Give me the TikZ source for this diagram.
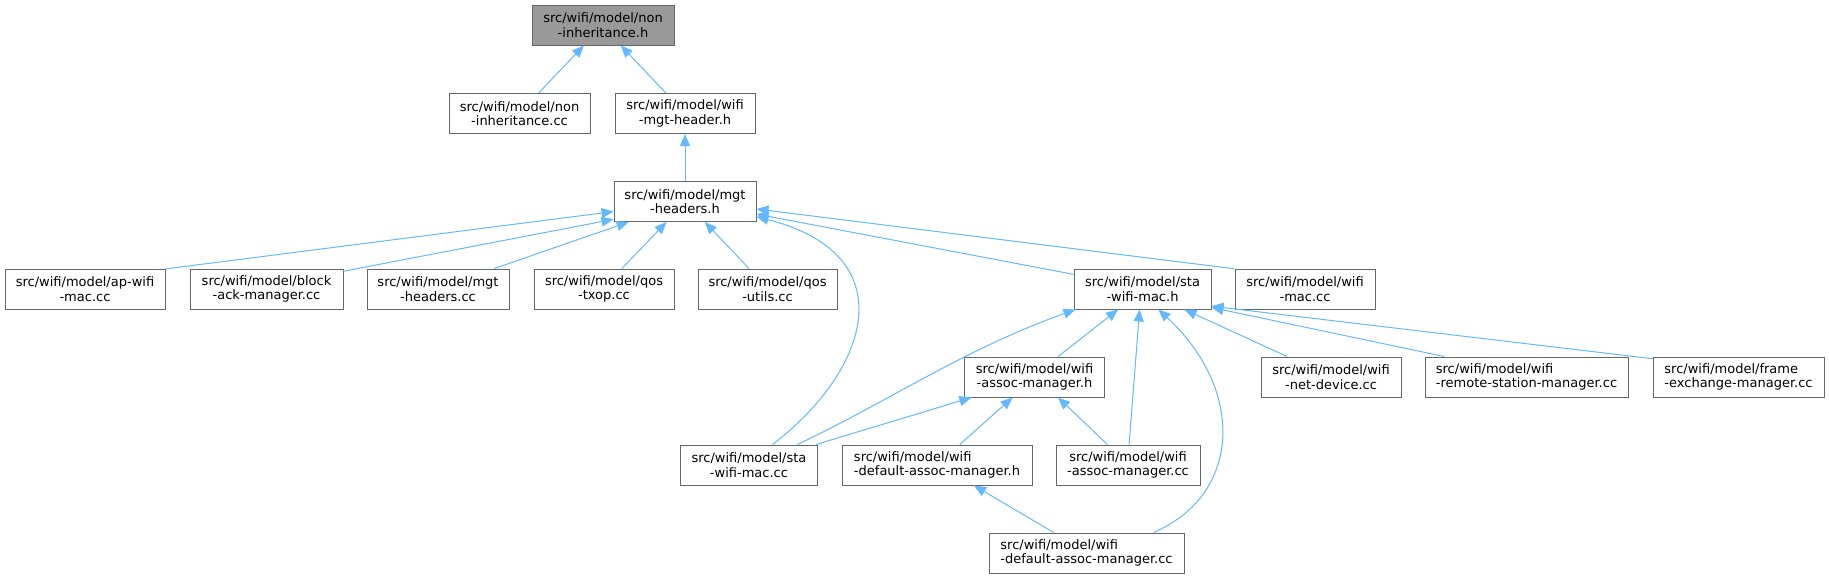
\documentclass[tikz,border=0pt]{standalone}
\usepackage{fontspec}
\setmainfont{DejaVu Sans}
\usetikzlibrary{arrows.meta}
\definecolor{edgeblue}{HTML}{63B8FF}
\definecolor{boxgrey}{HTML}{666666}
\definecolor{rootfill}{HTML}{999999}
\begin{document}
\begin{tikzpicture}[x=0.75pt,y=0.75pt]
\tikzstyle{every node}+=[inner sep=0pt]
\tikzstyle{file}=[draw=boxgrey,line width=0.75pt,fill=white,minimum height=30pt,align=center,font=\fontsize{9.75}{11}\selectfont]
\tikzstyle{dep}=[edgeblue,line width=0.75pt,-{Triangle[length=9pt,width=7.5pt]}]
\useasboundingbox (0,0) rectangle (1829,-579);
\node [file,fill=rootfill,minimum width=106.5pt] (root) at (603,-25) {src/wifi/model/non\\-inheritance.h};
\node [file,minimum width=105.75pt] (noninhcc) at (519.5,-113.5) {src/wifi/model/non\\-inheritance.cc};
\node [file,minimum width=105pt] (mgthdr) at (685,-113.5) {src/wifi/model/wifi\\-mgt-header.h};
\node [file,minimum width=106.5pt] (mgth) at (685,-201.5) {src/wifi/model/mgt\\-headers.h};
\node [file,minimum width=120pt] (apcc) at (85,-289) {src/wifi/model/ap-wifi\\-mac.cc};
\node [file,minimum width=114.75pt] (blockcc) at (266.5,-289) {src/wifi/model/block\\-ack-manager.cc};
\node [file,minimum width=106.5pt] (mgtcc) at (438,-289) {src/wifi/model/mgt\\-headers.cc};
\node [file,minimum width=105pt] (txopcc) at (604,-289) {src/wifi/model/qos\\-txop.cc};
\node [file,minimum width=104.25pt] (qosutils) at (767.5,-289) {src/wifi/model/qos\\-utils.cc};
\node [file,minimum width=102.75pt] (stah) at (1142.5,-289) {src/wifi/model/sta\\-wifi-mac.h};
\node [file,minimum width=105pt] (maccc) at (1305,-289) {src/wifi/model/wifi\\-mac.cc};
\node [file,minimum width=104.6pt] (assoch) at (1034.5,-377) {src/wifi/model/wifi\\-assoc-manager.h};
\node [file,minimum width=105pt] (netdev) at (1331,-377) {src/wifi/model/wifi\\-net-device.cc};
\node [file,align=left,minimum width=152.25pt] (remote) at (1526.5,-377) {src/wifi/model/wifi\\-remote-station-manager.cc};
\node [file,align=left,minimum width=128.25pt] (frame) at (1738.5,-377) {src/wifi/model/frame\\-exchange-manager.cc};
\node [file,minimum width=102.4pt] (stacc) at (749,-465) {src/wifi/model/sta\\-wifi-mac.cc};
\node [file,align=left,minimum width=142.5pt] (defh) at (937,-465) {src/wifi/model/wifi\\-default-assoc-manager.h};
\node [file,minimum width=108pt] (assoccc) at (1128,-465) {src/wifi/model/wifi\\-assoc-manager.cc};
\node [file,align=left,minimum width=146.25pt] (defcc) at (1086.5,-553) {src/wifi/model/wifi\\-default-assoc-manager.cc};
\draw [dep] (noninhcc.47) -- (root.-133.5);
\draw [dep] (mgthdr.133) -- (root.-49.6);
\draw [dep] (mgth) -- (mgthdr);
\draw [dep] (apcc.14) -- (mgth.-172.4);
\draw [dep] (blockcc.13) -- (mgth.-166.9);
\draw [dep] (mgtcc.20.3) -- (mgth.-160);
\draw [dep] (txopcc.49.6) -- (mgth.-132.8);
\draw [dep] (qosutils.132.8) -- (mgth.-46.5);
\draw [dep] (stacc.41) .. controls +(98,75) and +(149,-38) .. (mgth.-12.3);
\draw [dep] (stah.168.4) -- (mgth.-10);
\draw [dep] (maccc.164.8) -- (mgth.-6.8);
\draw [dep] (stacc.23.5) .. controls +(95,45) and +(-114,-41) .. (stah.-163.7);
\draw [dep] (assoch.41) -- (stah.-140.8);
\draw [dep] (assoccc.87) -- (stah.-98.5);
\draw [dep] (defcc.17) .. controls +(88,38) and +(87,-81) .. (stah.-52.2);
\draw [dep] (netdev.155) -- (stah.-26.3);
\draw [dep] (remote.166.8) -- (stah.-15.2);
\draw [dep] (frame.168) -- (stah.-14);
\draw [dep] (stacc.17.9) -- (assoch.-162.3);
\draw [dep] (defh.42.8) -- (assoch.-137);
\draw [dep] (assoccc.135.7) -- (assoch.-41);
\draw [dep] (defcc.148.4) -- (defh.-29.7);
\end{tikzpicture}
\end{document}
